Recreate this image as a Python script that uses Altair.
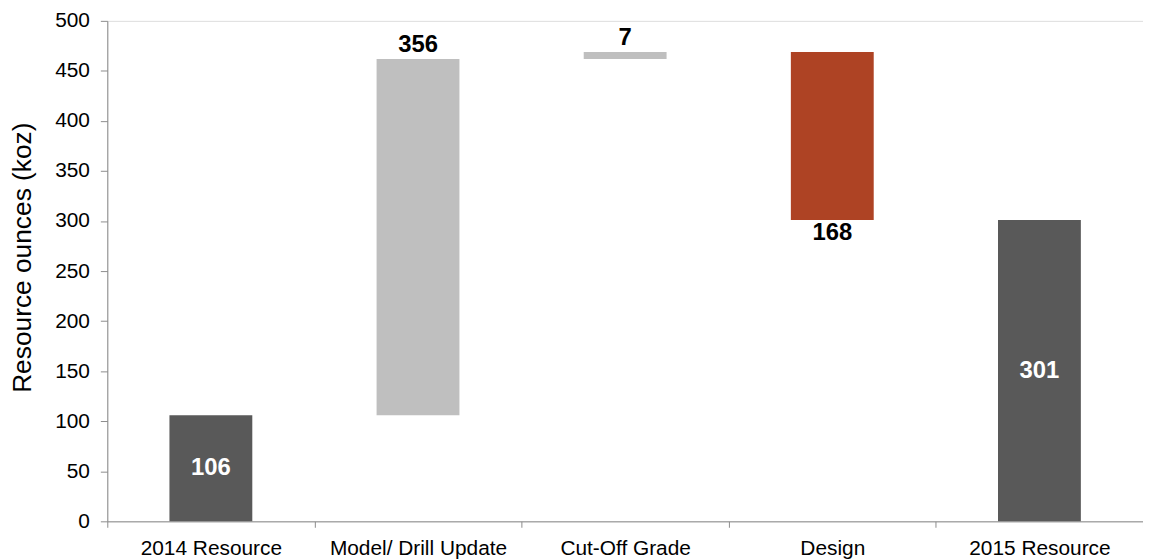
import altair as alt
import pandas as pd

categories = ["2014 Resource", "Model/ Drill Update", "Cut-Off Grade", "Design", "2015 Resource"]
changes = [106, 356, 7, -168, 301]
kinds = ["total", "increase", "increase", "decrease", "total"]
y_ticks = [0, 50, 100, 150, 200, 250, 300, 350, 400, 450, 500]

starts, ends, label_pos = [], [], []
running = 0
for k, v in zip(kinds, changes):
    if k == "total":
        starts.append(0)
        ends.append(v)
        running = v
        label_pos.append(v / 2)
    else:
        starts.append(running)
        running += v
        ends.append(running)
        label_pos.append(running)

df = pd.DataFrame({
    "cat": categories,
    "start": starts,
    "end": ends,
    "kind": kinds,
    "label": [str(abs(v)) for v in changes],
    "label_y": label_pos,
})

FONT = "Liberation Sans"
YTITLE = "Resource ounces (koz)"

x_enc = alt.X(
    "cat:N",
    sort=categories,
    scale=alt.Scale(paddingInner=0, paddingOuter=0),
    axis=alt.Axis(
        title=None, labelAngle=0, tickBand="extent", labelFontSize=21,
        labelPadding=10, tickSize=6, labelLimit=0, labelColor="#000000",
        domainColor="#8c8c8c", tickColor="#8c8c8c", labelFont=FONT,
    ),
)

y_scale = alt.Scale(domain=[0, 500], nice=False)

base = alt.Chart(df).encode(x=x_enc)

bars = base.mark_bar(width=alt.RelativeBandSize(0.4)).encode(
    y=alt.Y(
        "start:Q", scale=y_scale, title=YTITLE,
        axis=alt.Axis(
            values=y_ticks, grid=False, tickSize=7, labelPadding=11,
            labelFontSize=21, labelColor="#000000", labelFont=FONT,
            domainColor="#8c8c8c", tickColor="#8c8c8c",
            titleFontSize=26.5, titleFontWeight="normal", titleColor="#000000",
            titleFont=FONT, titleX=-85, titleY=238, titleAlign="center",
            titleBaseline="middle",
        ),
    ),
    y2="end:Q",
    color=alt.Color(
        "kind:N",
        scale=alt.Scale(domain=["total", "increase", "decrease"],
                        range=["#595959", "#bfbfbf", "#ae4324"]),
        legend=None,
    ),
)

txt_y = alt.Y("label_y:Q", scale=y_scale, title=YTITLE)

tot = base.transform_filter(alt.datum.kind == "total").mark_text(
    color="white", fontSize=24, fontWeight="bold", baseline="middle", font=FONT
).encode(y=txt_y, text="label:N")

inc = base.transform_filter(alt.datum.kind == "increase").mark_text(
    color="black", fontSize=24, fontWeight="bold", baseline="bottom", dy=-2, font=FONT
).encode(y=txt_y, text="label:N")

dec = base.transform_filter(alt.datum.kind == "decrease").mark_text(
    color="black", fontSize=24, fontWeight="bold", baseline="top", dy=1, font=FONT
).encode(y=txt_y, text="label:N")

chart = alt.layer(bars, tot, inc, dec).properties(
    width=1043, height=504, autosize="none",
    padding={"left": 100, "top": 11, "right": 0, "bottom": 36},
).configure_view(stroke=None).configure(font=FONT)

chart.save("out.html", embed_options={"renderer": "svg", "actions": False})
